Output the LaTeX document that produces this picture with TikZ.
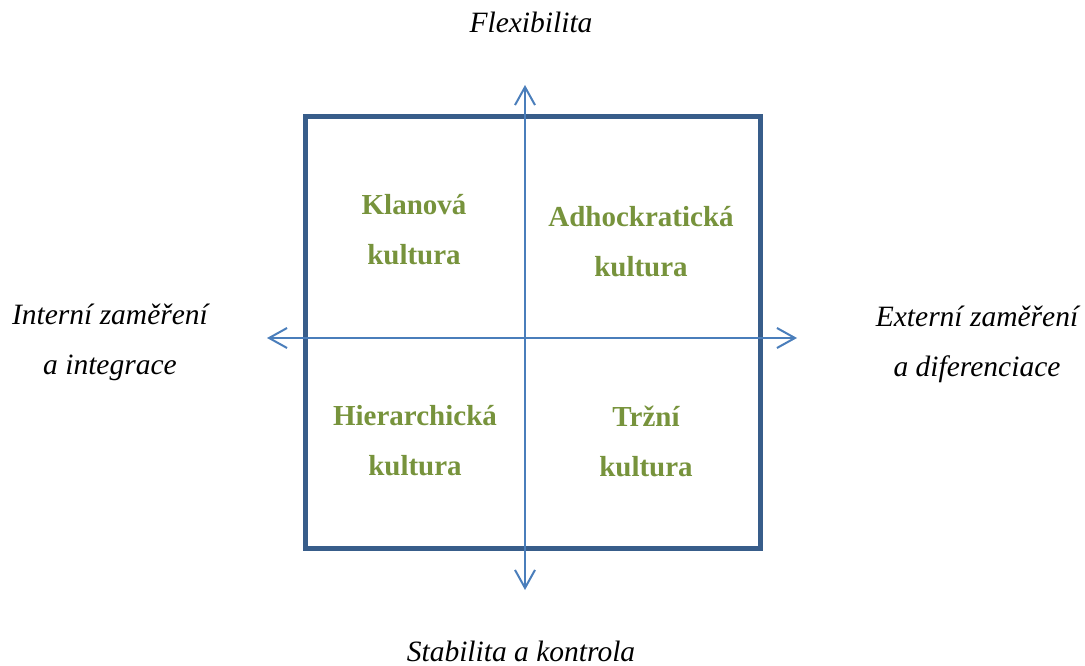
\documentclass[tikz,border=0pt]{standalone}
\usepackage{fontspec}
\setmainfont{Liberation Serif}
\usetikzlibrary{arrows.meta}
\definecolor{frameblue}{HTML}{385D8A}
\definecolor{axisblue}{HTML}{4A7EBB}
\definecolor{cultgreen}{HTML}{77933C}
\tikzset{
  frame/.style={draw=frameblue, line width=5pt},
  axis/.style={draw=axisblue, line width=2pt,
    {Straight Barb[length=18pt,width=20pt,line width=2pt]}-{Straight Barb[length=18pt,width=20pt,line width=2pt]}},
  culture/.style={text=cultgreen, font=\fontsize{29}{50}\selectfont\bfseries, align=center, inner sep=0pt},
  dimension/.style={font=\fontsize{29.5}{50}\selectfont\itshape, align=center, inner sep=0pt}
}
\begin{document}
\begin{tikzpicture}[x=1pt,y=-1pt]
  \useasboundingbox (0,0) rectangle (1085,666);
  % outer quadrant frame
  \draw[frame] (305,117) rectangle (760,548);
  % axis end points
  \coordinate (top) at (525,85);
  \coordinate (bottom) at (525,590);
  \coordinate (left) at (267,338);
  \coordinate (right) at (797,338);
  \draw[axis] (bottom) -- (top);
  \draw[axis] (left) -- (right);
  % four culture types
  \node[culture] (clan) at (414,230) {Klanová\\kultura};
  \node[culture] (adhoc) at (641,242) {Adhockratická\\kultura};
  \node[culture] (hier) at (415,441) {Hierarchická\\kultura};
  \node[culture] (market) at (646,441) {Tržní\\kultura};
  % dimension labels
  \node[dimension] (flex) at (531,22) {Flexibilita};
  \node[dimension] (stab) at (521,651) {Stabilita a kontrola};
  \node[dimension] (intern) at (110,342) {Interní zaměření\\a integrace};
  \node[dimension] (extern) at (977,344) {Externí zaměření\\a diferenciace};
\end{tikzpicture}
\end{document}
